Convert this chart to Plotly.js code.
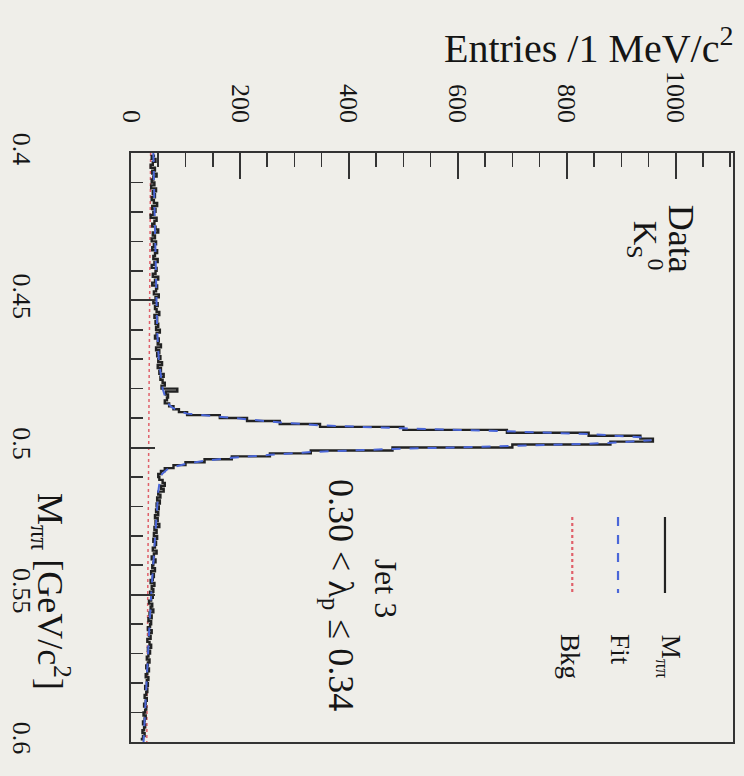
<!DOCTYPE html>
<html>
<head>
<meta charset="utf-8">
<script src="https://cdn.plot.ly/plotly-3.0.1.min.js"></script>
<style>
  html, body { margin: 0; padding: 0; background: #efeee9; }
  #chart { width: 744px; height: 776px; }
</style>
</head>
<body>
<div id="chart"></div>
<script>
// Histogram: entries per 1 MeV/c^2 bin, bins from 0.400 to 0.600 GeV/c^2 (200 bins)
const binLow = 0.400;
const binWidth = 0.001;
const dataCounts = [
  42, 38, 45, 40, 36, 44, 39, 47, 41, 38,
  43, 37, 46, 40, 44, 38, 42, 48, 39, 45,
  41, 36, 47, 43, 39, 45, 50, 40, 44, 38,
  46, 42, 39, 48, 44, 41, 49, 43, 38, 47,
  45, 40, 50, 44, 39, 48, 46, 42, 51, 45,
  41, 49, 44, 47, 52, 43, 48, 45, 50, 46,
  53, 47, 44, 51, 49, 55, 46, 52, 48, 54,
  50, 57, 49, 55, 52, 60, 54, 58, 62, 56,
  85, 64, 68, 66, 62, 70, 78, 88, 103, 163,
  213, 273, 347, 500, 690, 840, 935, 958, 880, 700,
  480, 330, 255, 185, 135, 100, 78, 62, 55, 50,
  52, 58, 62, 55, 60, 50, 54, 48, 53, 47,
  51, 46, 50, 44, 49, 45, 52, 43, 47, 42,
  48, 41, 46, 44, 40, 47, 42, 38, 45, 41,
  39, 44, 37, 42, 40, 36, 43, 38, 41, 35,
  40, 37, 33, 39, 36, 41, 34, 38, 32, 37,
  35, 31, 38, 33, 36, 30, 34, 37, 31, 35,
  32, 29, 34, 31, 28, 33, 30, 27, 32, 29,
  31, 26, 30, 28, 25, 29, 27, 24, 28, 26,
  23, 27, 25, 22, 26, 24, 21, 25, 22, 20
];

// Fit curve
const fitMass = [0.400, 0.410, 0.420, 0.430, 0.440, 0.450, 0.460, 0.470, 0.475, 0.480,
  0.4835, 0.4855, 0.4865, 0.4875, 0.4885, 0.4895, 0.4905, 0.4915, 0.4925, 0.4935,
  0.4945, 0.4955, 0.4965, 0.4975, 0.4985, 0.4995, 0.5005, 0.5015, 0.5025, 0.5035,
  0.5045, 0.5055, 0.5065, 0.5075, 0.5090, 0.5110, 0.515, 0.520, 0.530, 0.540,
  0.550, 0.560, 0.570, 0.580, 0.590, 0.600];
const fitVal = [41, 42, 43, 44, 45, 46, 48, 51, 54, 58,
  64, 70, 76, 86, 103, 160, 215, 275, 350, 500,
  690, 845, 935, 955, 875, 700, 480, 335, 255, 185,
  135, 102, 80, 66, 57, 53, 50, 48, 44, 40,
  37, 34, 31, 28, 26, 23];

// Background component
const bkgMass = [0.400, 0.600];
const bkgVal = [36, 29];

// Tick labels
const entryTicks = [0, 200, 400, 600, 800, 1000];
const massTicks = [0.4, 0.45, 0.5, 0.55, 0.6];
const massTickText = ['0.4', '0.45', '0.5', '0.55', '0.6'];

const binCenters = dataCounts.map((_, i) => +(binLow + (i + 0.5) * binWidth).toFixed(4));

const serif = '"Liberation Serif", "DejaVu Serif", serif';
const ink = '#151515';
const bg = '#efeee9';

const traces = [
  {
    x: bkgVal, y: bkgMass, type: 'scatter', mode: 'lines',
    line: { color: '#e0606a', width: 1.5, dash: 'dot' },
    hoverinfo: 'skip', showlegend: false
  },
  {
    x: dataCounts, y: binCenters, type: 'scatter', mode: 'lines',
    line: { color: '#222222', width: 2.4, shape: 'vhv' },
    showlegend: false
  },
  {
    x: fitVal, y: fitMass, type: 'scatter', mode: 'lines',
    line: { color: '#4a66d8', width: 2, dash: 'dash' },
    showlegend: false
  }
];

// legend drawn in plot-area coordinates (rotated legend)
const legendItems = [
  { label: 'M<sub>ππ</sub>', color: '#222222', dash: 'solid', px: 0.887, lx: 0.893 },
  { label: 'Fit', color: '#4a66d8', dash: 'dash', px: 0.809, lx: 0.812 },
  { label: 'Bkg', color: '#e0606a', dash: 'dot', px: 0.733, lx: 0.729 }
];

const shapes = legendItems.map(it => ({
  type: 'line', xref: 'paper', yref: 'paper',
  x0: it.px, x1: it.px, y0: 0.382, y1: 0.253,
  line: { color: it.color, width: 2.2, dash: it.dash }
}));

const A = (x, y, text, size, angle) => ({
  xref: 'paper', yref: 'paper', x: x, y: y, xanchor: 'center', yanchor: 'middle',
  textangle: angle, showarrow: false, text: text,
  font: { family: serif, size: size, color: ink }
});

const annotations = [
  ...legendItems.map(it => ({
    xref: 'paper', yref: 'paper', x: it.lx, y: 0.186,
    xanchor: 'center', yanchor: 'top', textangle: 90, showarrow: false,
    text: it.label, font: { family: serif, size: 27, color: ink }
  })),
  A(0.913, 0.855, 'Data', 36, 90),
  A(0.855, 0.843, 'K<sub>S</sub><sup>0</sup>', 34, 90),
  A(0.423, 0.261, 'Jet 3', 32, 90),
  A(0.345, 0.250, '0.30 < λ<sub>p</sub> ≤ 0.34', 36, 90),
  A(-0.134, 0.256, 'M<sub>ππ</sub> [GeV/c<sup>2</sup>]', 36, 90),
  A(0.760, 1.182, 'Entries /1 MeV/c<sup>2</sup>', 40, 0)
];

const layout = {
  width: 744, height: 776,
  margin: { l: 131, r: 11, t: 153, b: 34 },
  paper_bgcolor: bg, plot_bgcolor: bg,
  showlegend: false,
  xaxis: {
    range: [0, 1105], side: 'top',
    tickvals: entryTicks, ticks: 'inside', ticklen: 26, tickwidth: 2, tickcolor: '#333',
    minor: { dtick: 50, ticks: 'inside', ticklen: 14, tickwidth: 1.6, tickcolor: '#333' },
    showline: true, linewidth: 2, linecolor: '#333', mirror: true,
    showgrid: false, zeroline: false,
    tickangle: 90, ticklabelstandoff: 19,
    tickfont: { family: serif, size: 26, color: ink }
  },
  yaxis: {
    range: [0.6, 0.4], side: 'left',
    tickvals: massTicks, ticktext: massTickText,
    ticks: 'inside', ticklen: 24, tickwidth: 2, tickcolor: '#333',
    minor: { dtick: 0.01, ticks: 'inside', ticklen: 12, tickwidth: 1.6, tickcolor: '#333' },
    showline: true, linewidth: 2, linecolor: '#333', mirror: true,
    showgrid: false, zeroline: false,
    tickangle: 90, ticklabelstandoff: 85,
    tickfont: { family: serif, size: 26, color: ink }
  },
  shapes: shapes,
  annotations: annotations
};

Plotly.newPlot('chart', traces, layout, { displayModeBar: false, staticPlot: true });
</script>
</body>
</html>
